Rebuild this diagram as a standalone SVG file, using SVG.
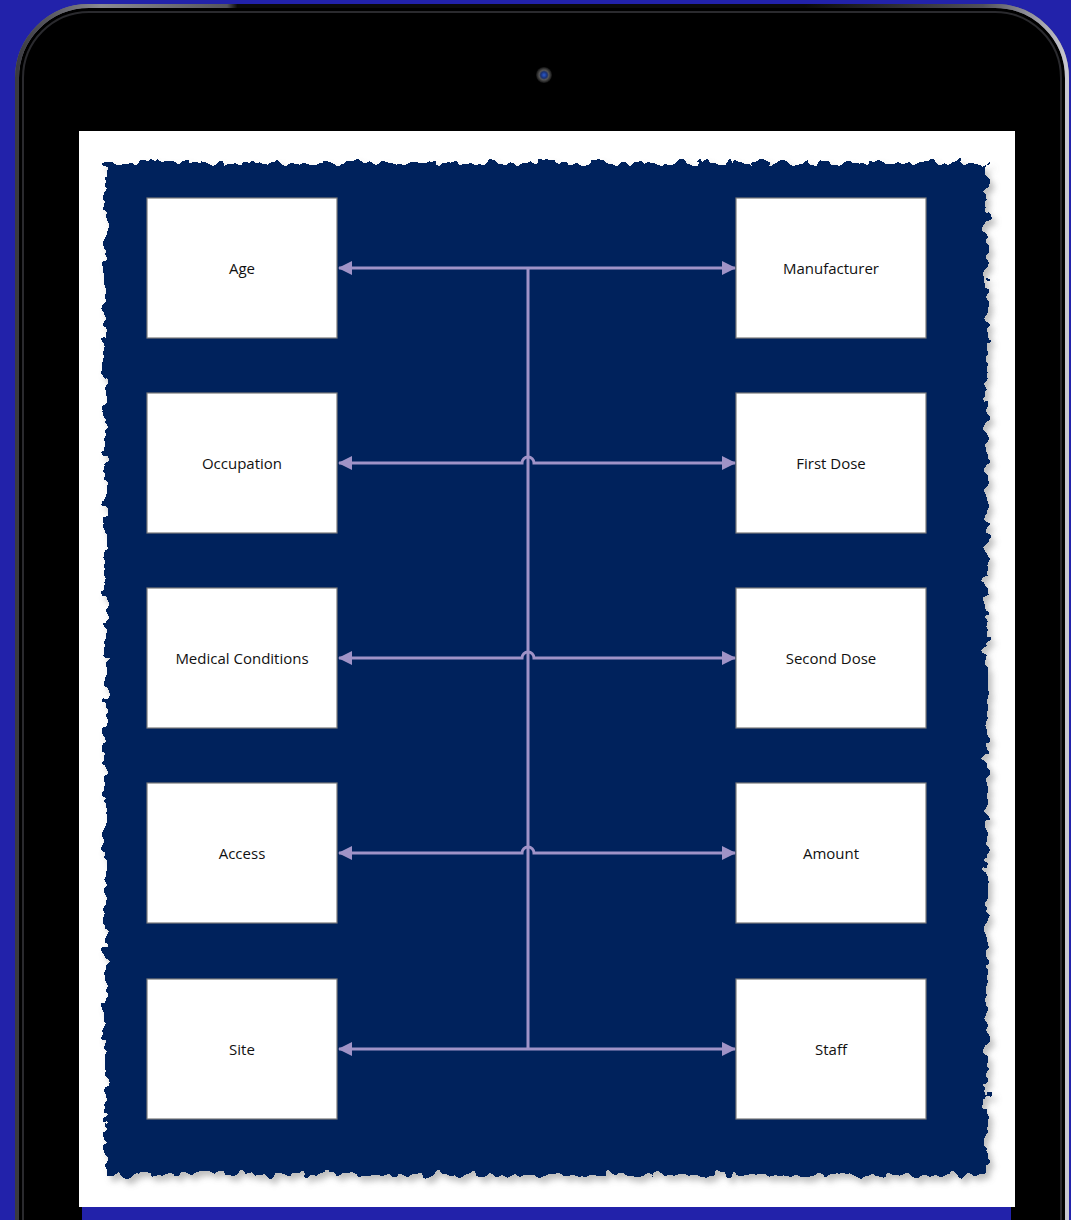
<svg xmlns="http://www.w3.org/2000/svg" width="1071" height="1220" viewBox="0 0 1071 1220">
<defs>
<linearGradient id="bezelTop" x1="0" y1="0" x2="1" y2="0">
<stop offset="0" stop-color="#3a3a40"/>
<stop offset="0.08" stop-color="#8a8a92"/>
<stop offset="0.2" stop-color="#55555c"/>
<stop offset="0.21" stop-color="#0a0a0a"/>
<stop offset="0.75" stop-color="#0a0a0a"/>
<stop offset="0.92" stop-color="#50505a"/>
<stop offset="1" stop-color="#c8c8d0"/>
</linearGradient>
<radialGradient id="cam" cx="0.5" cy="0.5" r="0.5">
<stop offset="0" stop-color="#2a5ad0"/>
<stop offset="0.4" stop-color="#1a3070"/>
<stop offset="0.6" stop-color="#555"/>
<stop offset="1" stop-color="#111"/>
</radialGradient>
<filter id="rough" x="-5%" y="-5%" width="112%" height="112%">
<feTurbulence type="fractalNoise" baseFrequency="0.09" numOctaves="2" seed="5" result="n"/>
<feDisplacementMap in="SourceGraphic" in2="n" scale="16" xChannelSelector="R" yChannelSelector="G" result="d"/>
<feGaussianBlur in="d" stdDeviation="3" result="b"/>
<feOffset in="b" dx="4" dy="5" result="o"/>
<feComponentTransfer in="o" result="sh"><feFuncA type="linear" slope="0.5"/></feComponentTransfer>
<feColorMatrix in="sh" type="matrix" values="0 0 0 0 0.2  0 0 0 0 0.2  0 0 0 0 0.2  0 0 0 1 0" result="shc"/>
<feMerge><feMergeNode in="shc"/><feMergeNode in="d"/></feMerge>
</filter>
<marker id="arr" viewBox="0 0 14 14" refX="13" refY="7" markerWidth="14" markerHeight="14" markerUnits="userSpaceOnUse" orient="auto-start-reverse">
<path d="M0,0 L14,7 L0,14 Z" fill="#a093c7"/>
</marker>
<style>
.node rect{fill:#ffffff;stroke:#7a7a7a;stroke-width:1.2}
.node text{font-family:"Open Sans","Noto Sans",sans-serif;font-size:15px;fill:#111111;text-anchor:middle;dominant-baseline:central}
.conn{fill:none;stroke:#a093c7;stroke-width:3}
</style>
</defs>
<rect width="1071" height="1220" fill="#2222aa"/>
<g id="tablet">
<rect x="17" y="6" width="1050" height="1320" rx="72" fill="#000" stroke="#6e6e78" stroke-width="4"/>
<rect x="17" y="6" width="1050" height="1320" rx="72" fill="none" stroke="url(#bezelTop)" stroke-width="4"/>
<rect x="23" y="12" width="1038" height="1308" rx="66" fill="none" stroke="#2a2a2e" stroke-width="2"/>
<circle cx="544" cy="75" r="8" fill="url(#cam)"/>
<rect x="79" y="131" width="936" height="1076" fill="#ffffff"/>
<rect x="82" y="1207" width="929" height="13" fill="#2222aa"/>
</g>
<g id="panel">
<rect x="105" y="163" width="882" height="1012" fill="#00205c" filter="url(#rough)"/>
</g>
<g id="connectors">
<path class="conn" d="M528 268 V1049"/>
<path class="conn" d="M339 268 H735" marker-start="url(#arr)" marker-end="url(#arr)"/>
<path class="conn" d="M339 463 H522 A6 6 0 0 1 534 463 H735" marker-start="url(#arr)" marker-end="url(#arr)"/>
<path class="conn" d="M339 658 H522 A6 6 0 0 1 534 658 H735" marker-start="url(#arr)" marker-end="url(#arr)"/>
<path class="conn" d="M339 853 H522 A6 6 0 0 1 534 853 H735" marker-start="url(#arr)" marker-end="url(#arr)"/>
<path class="conn" d="M339 1049 H735" marker-start="url(#arr)" marker-end="url(#arr)"/>
</g>
<g id="node-age" class="node"><rect x="147" y="198" width="190" height="140"/><text x="242" y="268">Age</text></g>
<g id="node-occupation" class="node"><rect x="147" y="393" width="190" height="140"/><text x="242" y="463">Occupation</text></g>
<g id="node-medical" class="node"><rect x="147" y="588" width="190" height="140"/><text x="242" y="658">Medical Conditions</text></g>
<g id="node-access" class="node"><rect x="147" y="783" width="190" height="140"/><text x="242" y="853">Access</text></g>
<g id="node-site" class="node"><rect x="147" y="979" width="190" height="140"/><text x="242" y="1049">Site</text></g>
<g id="node-manufacturer" class="node"><rect x="736" y="198" width="190" height="140"/><text x="831" y="268">Manufacturer</text></g>
<g id="node-firstdose" class="node"><rect x="736" y="393" width="190" height="140"/><text x="831" y="463">First Dose</text></g>
<g id="node-seconddose" class="node"><rect x="736" y="588" width="190" height="140"/><text x="831" y="658">Second Dose</text></g>
<g id="node-amount" class="node"><rect x="736" y="783" width="190" height="140"/><text x="831" y="853">Amount</text></g>
<g id="node-staff" class="node"><rect x="736" y="979" width="190" height="140"/><text x="831" y="1049">Staff</text></g>
</svg>
